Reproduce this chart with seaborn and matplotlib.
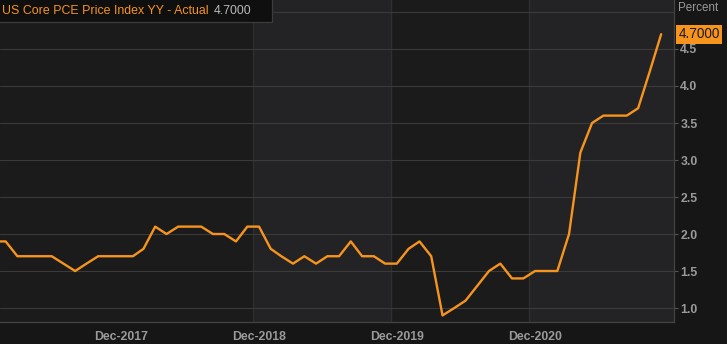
import matplotlib
matplotlib.use("Agg")
import matplotlib.pyplot as plt
import matplotlib.patches as mpatches
import seaborn as sns
import pandas as pd
import numpy as np

# ---- data ----
months = pd.date_range("2017-01-31", "2021-11-30", freq="ME")
values = [1.9, 1.9, 1.7, 1.7, 1.7, 1.7, 1.6, 1.5, 1.6, 1.7, 1.7, 1.7,   # 2017
          1.7, 1.8, 2.1, 2.0, 2.1, 2.1, 2.1, 2.0, 2.0, 1.9, 2.1, 2.1,   # 2018
          1.8, 1.7, 1.6, 1.7, 1.6, 1.7, 1.7, 1.9, 1.7, 1.7, 1.6, 1.6,   # 2019
          1.8, 1.9, 1.7, 0.9, 1.0, 1.1, 1.3, 1.5, 1.6, 1.4, 1.4, 1.5,   # 2020
          1.5, 1.5, 2.0, 3.1, 3.5, 3.6, 3.6, 3.6, 3.7, 4.2, 4.7]        # 2021
tick_dates = pd.to_datetime(["2017-12-31", "2018-12-31", "2019-12-31", "2020-12-31"])
tick_labels = ["Dec-2017", "Dec-2018", "Dec-2019", "Dec-2020"]
y_ticks = [1.0, 1.5, 2.0, 2.5, 3.0, 3.5, 4.0, 4.5]
y_grid = [1.0, 1.5, 2.0, 2.5, 3.0, 3.5, 4.0, 4.5, 5.0]
series_name = "US Core PCE Price Index YY - Actual"
last_label = "4.7000"
unit_label = "Percent"

df = pd.DataFrame({"date": months, "value": values})

# ---- style ----
sns.set_theme(style="dark")
plt.rcParams["font.family"] = ["Liberation Sans", "DejaVu Sans"]

BG = "#161616"
PLOT_DARK = "#1b1b1c"
PLOT_LIGHT = "#232325"
GRID = "#3a3a3a"
TXT = "#9a9a9a"
ORANGE = "#f7941d"

W, H = 727, 344
fig = plt.figure(figsize=(W / 100, H / 100), dpi=100, facecolor=BG)
ax = fig.add_axes([0.0, 1 - 321.5 / H, 674 / W, 321.5 / H])
ax.set_facecolor(PLOT_DARK)

x0 = pd.Timestamp("2017-02-13")
x1 = pd.Timestamp("2022-01-03")
ax.set_ylim(0.818, 5.162)

# alternating year bands
half = pd.Timedelta(days=15)
ax.axvspan(tick_dates[1] - half, tick_dates[2] - half, color=PLOT_LIGHT, zorder=0, lw=0)
ax.axvspan(tick_dates[3] - half, x1, color=PLOT_LIGHT, zorder=0, lw=0)
for d in tick_dates[1:]:
    ax.axvline(d - half, color="#2e2e2e", lw=1, zorder=0.5)

for v in y_grid:
    ax.axhline(v, color=GRID, lw=0.8, zorder=0.6)

sns.lineplot(data=df, x="date", y="value", ax=ax, color=ORANGE, lw=1.7, zorder=3)
ax.set_xlim(x0, x1)
ax.set_ylim(0.818, 5.162)

ax.set_xlabel("")
ax.set_ylabel("")
ax.yaxis.tick_right()
ax.set_yticks(y_ticks)
ax.set_yticklabels([f"{v:.1f}" for v in y_ticks])
ax.set_xticks(tick_dates)
ax.set_xticklabels(tick_labels)
ax.tick_params(axis="both", colors="#555555", labelcolor=TXT, labelsize=8.8,
               length=3, width=0.8, direction="out")
ax.tick_params(axis="y", pad=1.5)
ax.tick_params(axis="x", pad=3, length=4)
for lab in ax.get_xticklabels() + ax.get_yticklabels():
    lab.set_fontweight("bold")
ax.grid(False)
for side, sp in ax.spines.items():
    sp.set_visible(side in ("bottom", "right"))
    sp.set_color("#444444")
    sp.set_linewidth(0.9)

# legend box (top-left)
fig.patches.append(mpatches.Rectangle((-2 / W, 1 - 22 / H), 274 / W, 24 / H,
                                      transform=fig.transFigure, fc="#0f0f0f",
                                      ec="#3c3c3c", lw=0.9, zorder=5))
fig.text(2 / W, 1 - 11 / H, series_name, color=ORANGE, fontsize=8.9,
         ha="left", va="center", zorder=6)
fig.text(214 / W, 1 - 11 / H, last_label, color="#b8b8b8", fontsize=8.9,
         ha="left", va="center", zorder=6)

# unit label and last-value badge on the right
fig.text(678 / W, 1 - 8 / H, unit_label, color=TXT, fontsize=8.4, ha="left", va="center")
ax.annotate(last_label, xy=(1.0, values[-1]), xycoords=("axes fraction", "data"),
            xytext=(3.2, 0), textcoords="offset points", ha="left", va="center",
            fontsize=9.8, color="#1a1a1a",
            bbox=dict(boxstyle="square,pad=0.18", fc=ORANGE, ec="none"),
            annotation_clip=False)

fig.savefig("out.png", dpi=100, facecolor=BG)
